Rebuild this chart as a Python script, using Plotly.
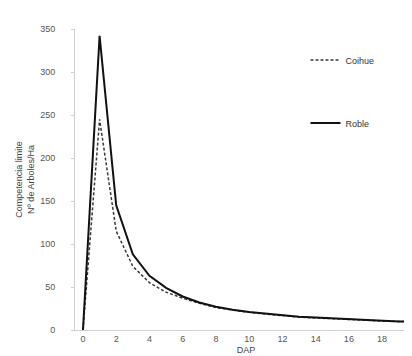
import plotly.graph_objects as go

dap = list(range(0, 21))
roble = [0, 342, 145, 88, 63, 49, 39, 32, 27, 23.5, 21, 19, 17, 15.5, 14.5, 13.5, 12.5, 11.5, 11, 10, 9.5]
coihue = [0, 245, 115, 74, 55, 44, 37, 31, 26, 23, 20.5, 18.5, 16.5, 15, 14, 13, 12, 11.5, 10.5, 10, 9.5]
y_ticks = [0, 50, 100, 150, 200, 250, 300, 350]
x_ticks = list(range(0, 21, 2))

fig = go.Figure()
fig.add_trace(go.Scatter(x=dap, y=coihue, mode="lines", name="Coihue",
                         line=dict(color="#3a3a3a", width=1.5, dash="3px,2px"),
                         legendgroup="c"))
fig.add_trace(go.Scatter(x=dap, y=roble, mode="lines", name="Roble",
                         line=dict(color="#111111", width=2),
                         legendgroup="r"))

font = dict(family="Liberation Sans, Arial, sans-serif", size=9, color="#555555")
fig.update_layout(
    width=412, height=356,
    margin=dict(l=67, r=0, t=21, b=34),
    paper_bgcolor="white", plot_bgcolor="white",
    font=font,
    showlegend=True,
    legend=dict(x=0.674, y=0.945, xanchor="left", yanchor="top",
                tracegroupgap=44, itemwidth=30, bgcolor="rgba(0,0,0,0)",
                font=dict(family="Liberation Sans, Arial, sans-serif", size=9, color="#333333")),
    xaxis=dict(range=[-0.48, 20.1], tickvals=x_ticks, showgrid=False, zeroline=False,
               showline=True, linecolor="#d0d0d0", linewidth=1, ticks="",
               ticklabelstandoff=0, ticklabeloverflow="allow",
               title=dict(text="DAP", standoff=3, font=dict(size=9, color="#444444"))),
    yaxis=dict(range=[0, 350], tickvals=y_ticks, showgrid=False, zeroline=False,
               showline=True, linecolor="#d0d0d0", linewidth=1, ticks="outside",
               ticklen=3, tickcolor="#d0d0d0", ticklabelstandoff=14,
               title=dict(text="Competencia limite<br>Nº de Arboles/Ha", standoff=4,
                          font=dict(size=9, color="#444444"))),
)
fig.write_html("out.html")
